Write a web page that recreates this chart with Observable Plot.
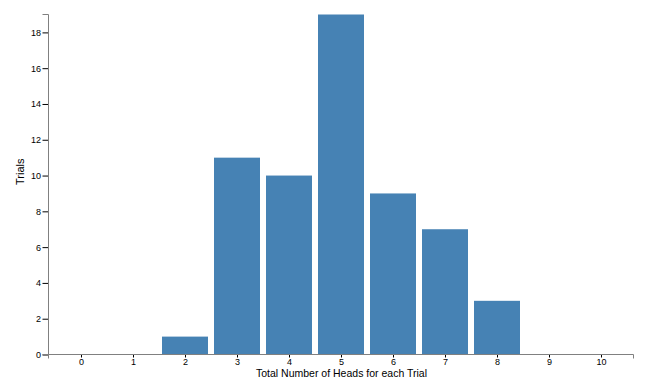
<!DOCTYPE html>
<html>
<head>
<meta charset="utf-8">
<script src="https://cdn.jsdelivr.net/npm/d3@7"></script>
<script src="https://cdn.jsdelivr.net/npm/@observablehq/plot@0.6"></script>
<style>
  html, body { margin: 0; padding: 0; background: #fff; }
  #chart svg { display: block; }
</style>
</head>
<body>
<div id="chart"></div>
<script>
const heads = [0, 1, 2, 3, 4, 5, 6, 7, 8, 9, 10];
const trials = [0, 0, 1, 11, 10, 19, 9, 7, 3, 0, 0];
const yTicks = [0, 2, 4, 6, 8, 10, 12, 14, 16, 18];
const xLabel = "Total Number of Heads for each Trial";
const yLabel = "Trials";

const data = heads.map((h, i) => ({heads: h, trials: trials[i]}));

const axisColor = "#808080";

function domainLines(index, scales, values, dimensions) {
  const {width, height, marginLeft, marginRight, marginTop, marginBottom} = dimensions;
  const x0 = marginLeft, x1 = width - marginRight;
  const y0 = marginTop, y1 = height - marginBottom;
  const g = d3.create("svg:g")
    .attr("fill", "none")
    .attr("stroke", axisColor)
    .attr("stroke-width", 1);
  g.append("path").attr("d", `M${x0 - 6},${y0}H${x0}V${y1}H${x0 - 6}`);
  g.append("path").attr("d", `M${x0},${y1 + 4}V${y1}H${x1}V${y1 + 4}`);
  return g.node();
}

const chart = Plot.plot({
  width: 650,
  height: 388,
  marginLeft: 48.5,
  marginRight: 16.5,
  marginTop: 14.5,
  marginBottom: 33.5,
  style: {fontFamily: "'Liberation Sans', Arial, Helvetica, sans-serif", fontSize: "9px", color: "#000", background: "#fff"},
  x: {type: "band", domain: heads, paddingInner: 0.11, paddingOuter: 0.17, label: null, tickSize: 3, tickPadding: 1},
  y: {domain: [0, 19], ticks: yTicks, label: null, tickSize: 6, tickPadding: 2},
  marks: [
    Plot.barY(data, {x: "heads", y: "trials", fill: "#4682b4"}),
    domainLines,
    Plot.text([yLabel], {frameAnchor: "left", dx: -29, rotate: -90, fontSize: 11, fill: "#000"}),
    Plot.text([xLabel], {frameAnchor: "bottom", dy: 21.5, fontSize: 10.5, fill: "#000"})
  ]
});

document.getElementById("chart").appendChild(chart);
</script>
</body>
</html>
